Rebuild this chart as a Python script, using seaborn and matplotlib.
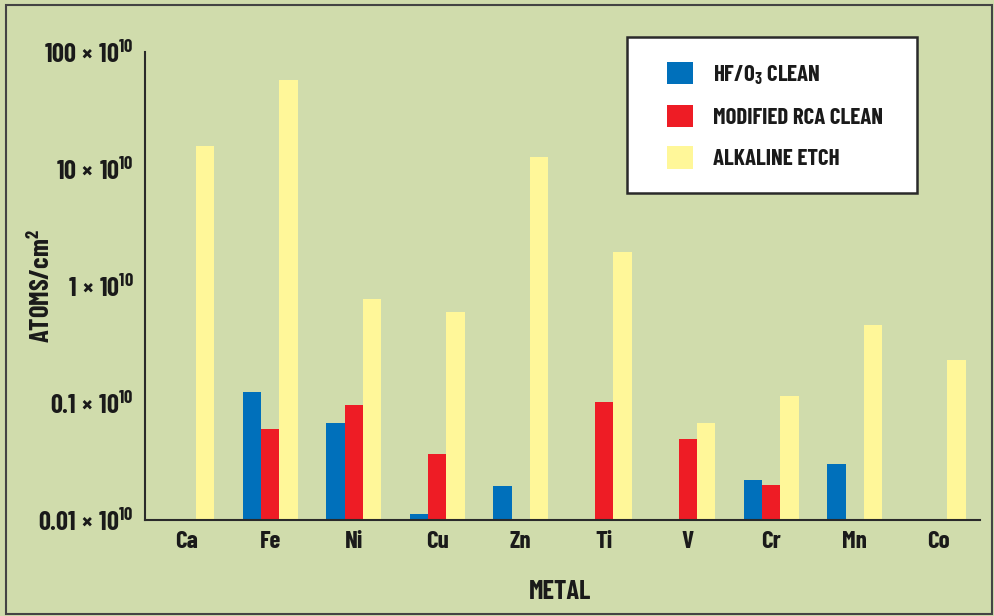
import matplotlib
matplotlib.use("Agg")
import matplotlib.pyplot as plt
from matplotlib.patches import Patch, Rectangle
from matplotlib.ticker import FixedLocator, NullFormatter
import pandas as pd
import seaborn as sns

metals = ["Ca", "Fe", "Ni", "Cu", "Zn", "Ti", "V", "Cr", "Mn", "Co"]
hf_o3 = [None, 0.124, 0.0675, 0.0112, 0.0195, None, None, 0.022, 0.030, None]
modified_rca = [None, 0.060, 0.096, 0.0366, None, 0.102, 0.049, 0.0199, None, None]
alkaline = [15.7, 57.6, 0.774, 0.60, 12.7, 1.95, 0.0675, 0.115, 0.464, 0.233]

series = ["HF/O$_3$ CLEAN", "MODIFIED RCA CLEAN", "ALKALINE ETCH"]
colors = ["#0070bb", "#ee1c25", "#fff799"]
ytick_vals = [0.01, 0.1, 1, 10, 100]
ytick_labels = ["0.01", "0.1", "1", "10", "100"]

rows = []
for name, vals in zip(series, [hf_o3, modified_rca, alkaline]):
    for m, v in zip(metals, vals):
        rows.append({"metal": m, "series": name, "value": v})
df = pd.DataFrame(rows)

sns.set_style("white")
plt.rcParams["font.family"] = ["Barlow Condensed", "DejaVu Sans"]
plt.rcParams["font.weight"] = "bold"
plt.rcParams["mathtext.fontset"] = "custom"
plt.rcParams["mathtext.rm"] = "Barlow Condensed:bold"
plt.rcParams["mathtext.bf"] = "Barlow Condensed:bold"
plt.rcParams["mathtext.it"] = "Barlow Condensed:bold"
plt.rcParams["mathtext.sf"] = "Barlow Condensed:bold"

bg = "#d0dcac"
dark = "#2a2a2a"
txt = "#1a1a1a"
fig = plt.figure(figsize=(9.94, 6.16), dpi=100, facecolor=bg)
ax = fig.add_axes([145 / 994, 1 - 520 / 616, 835 / 994, 468 / 616])
ax.set_facecolor(bg)
ax.set_yscale("log")

sns.barplot(data=df, x="metal", y="value", hue="series", order=metals,
            hue_order=series, palette=colors, width=0.66, gap=0,
            saturation=1, linewidth=0, ax=ax, legend=False)

ax.set_ylim(0.01, 100)
ax.set_xlim(-0.5, len(metals) - 0.5)
ax.set_yticks(ytick_vals)
ax.set_yticklabels([rf"{t}$\,\times\,$10$^{{10}}$" for t in ytick_labels])
ax.yaxis.set_minor_locator(FixedLocator([]))
ax.tick_params(axis="y", which="major", direction="out", length=6, width=1.5,
               color=dark, labelsize=19, labelcolor=txt, pad=2)
ax.tick_params(axis="x", which="major", length=0, labelsize=18,
               labelcolor=txt, pad=8)
ax.xaxis.set_minor_locator(FixedLocator([i - 0.5 for i in range(len(metals) + 1)]))
ax.xaxis.set_minor_formatter(NullFormatter())
ax.tick_params(axis="x", which="minor", direction="out", length=6, width=1.5,
               color=dark)
for lab in ax.get_xticklabels() + ax.get_yticklabels():
    lab.set_fontweight("bold")

for side in ["top", "right"]:
    ax.spines[side].set_visible(False)
for side in ["left", "bottom"]:
    ax.spines[side].set_color(dark)
    ax.spines[side].set_linewidth(1.5)

ax.set_xlabel("METAL", fontsize=19, fontweight="bold", color=txt)
ax.xaxis.set_label_coords((560 - 145) / 835, -60 / 468)
ax.set_ylabel("ATOMS/cm$^2$", fontsize=19, fontweight="bold", color=txt)
ax.yaxis.set_label_coords(-90 / 835, 0.5)

# legend box
fig.patches.append(Rectangle((627 / 994, 1 - 193 / 616), 290 / 994, 156 / 616,
                             transform=fig.transFigure, facecolor="white",
                             edgecolor=dark, linewidth=1.8, zorder=5))
handles = [Patch(facecolor=c, edgecolor="none") for c in colors]
leg = fig.legend(handles, series, loc="upper left",
                 bbox_to_anchor=(667 / 994, 1 - 62 / 616), frameon=False,
                 borderpad=0, borderaxespad=0,
                 fontsize=16.5, handlelength=1.13, handleheight=1.13,
                 labelspacing=0.8, handletextpad=0.87)
leg.set_zorder(6)
for t in leg.get_texts():
    t.set_fontweight("bold")
    t.set_color(txt)

# outer frame
fig.patches.append(Rectangle((6 / 994, 2 / 616), 986 / 994, 609 / 616,
                             transform=fig.transFigure, facecolor="none",
                             edgecolor="#444444", linewidth=1.5))

fig.savefig("out.png", dpi=100, facecolor=bg)
